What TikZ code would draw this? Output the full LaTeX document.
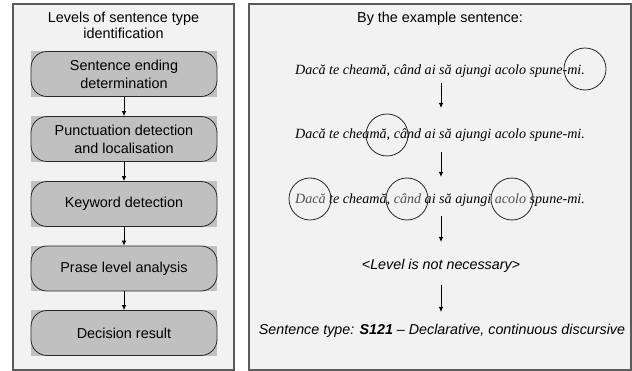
\documentclass[tikz,border=0pt]{standalone}
\usepackage{fontspec}
\setmainfont{Liberation Serif}
\setsansfont{Liberation Sans}
\usetikzlibrary{backgrounds,arrows.meta}
\definecolor{panelfill}{HTML}{F2F2F2}
\definecolor{panelline}{HTML}{5A5A5A}
\definecolor{boxgray}{HTML}{C0C0C0}
\definecolor{wordgray}{HTML}{505050}
\begin{document}
\begin{tikzpicture}[x=1pt,y=-1pt,
  panel/.style={fill=panelfill,draw=panelline,line width=1.5pt},
  stepbox/.style={draw=black!85,line width=0.8pt,rounded corners=16pt,
    minimum width=186pt,minimum height=45pt,inner sep=0pt,align=center,
    font=\sffamily\fontsize{14.4}{18}\selectfont},
  boxbg/.style={fill=boxgray},
  flow/.style={line width=0.8pt,-{Latex[length=5pt,width=4.5pt]}},
  title/.style={align=center,inner sep=0pt,font=\sffamily\fontsize{14.4}{15.5}\selectfont},
  sent/.style={inner sep=0pt,font=\itshape\fontsize{14.1}{17}\selectfont},
  ring/.style={circle,draw=black!85,line width=0.8pt,minimum size=42pt,inner sep=0pt},
  note/.style={inner sep=0pt,font=\sffamily\itshape\fontsize{14.3}{17}\selectfont}]
\useasboundingbox (0,0) rectangle (632,371);
\begin{scope}[on background layer]
  \draw[panel] (13,4) rectangle (234,370);
  \draw[panel] (249,4) rectangle (631,370);
\end{scope}

% left panel
\node[title] (lt) at (123.5,25.5) {Levels of sentence type\\identification};
\node[stepbox] (b1) at (124,74) {Sentence ending\\determination};
\node[stepbox] (b2) at (124,139) {Punctuation detection\\and localisation};
\node[stepbox] (b3) at (124,204) {Keyword detection};
\node[stepbox] (b4) at (124,268.5) {Prase level analysis};
\node[stepbox] (b5) at (124,333) {Decision result};
\begin{scope}[on background layer]
  \foreach \b in {b1,b2,b3,b4,b5}
    \fill[boxbg] (\b.south west) rectangle (\b.north east);
\end{scope}
\draw[flow] (b1) -- (b2);
\draw[flow] (b2) -- (b3);
\draw[flow] (b3) -- (b4);
\draw[flow] (b4) -- (b5);

% right panel
\node[title] (rt) at (440,19) {By the example sentence:};
\node[sent] (s1) at (440,71) {Dacă te cheamă, când ai să ajungi acolo spune-mi.};
\node[sent] (s2) at (440,135) {Dacă te cheamă, când ai să ajungi acolo spune-mi.};
\node[sent] (s3) at (440,200) {{\color{wordgray}Dacă} te cheamă, {\color{wordgray}când} ai să ajungi {\color{wordgray}acolo} spune-mi.};
\node[note] (lv) at (441,266) {<Level is not necessary>};
\node[note] (res) at (442,331) {Sentence type: \textbf{S121} – Declarative, continuous discursive};

\node[ring] (c1) at (585,69) {};
\node[ring] (c2) at (387,135) {};
\node[ring] (c3) at (310,199) {};
\node[ring] (c4) at (407,199) {};
\node[ring] (c5) at (512,199) {};

\coordinate (a1s) at (441,83);  \coordinate (a1e) at (441,108);
\coordinate (a2s) at (441,152); \coordinate (a2e) at (441,177);
\coordinate (a3s) at (441,216); \coordinate (a3e) at (441,242);
\coordinate (a4s) at (441,285); \coordinate (a4e) at (441,312);
\draw[flow] (a1s) -- (a1e);
\draw[flow] (a2s) -- (a2e);
\draw[flow] (a3s) -- (a3e);
\draw[flow] (a4s) -- (a4e);
\end{tikzpicture}
\end{document}
